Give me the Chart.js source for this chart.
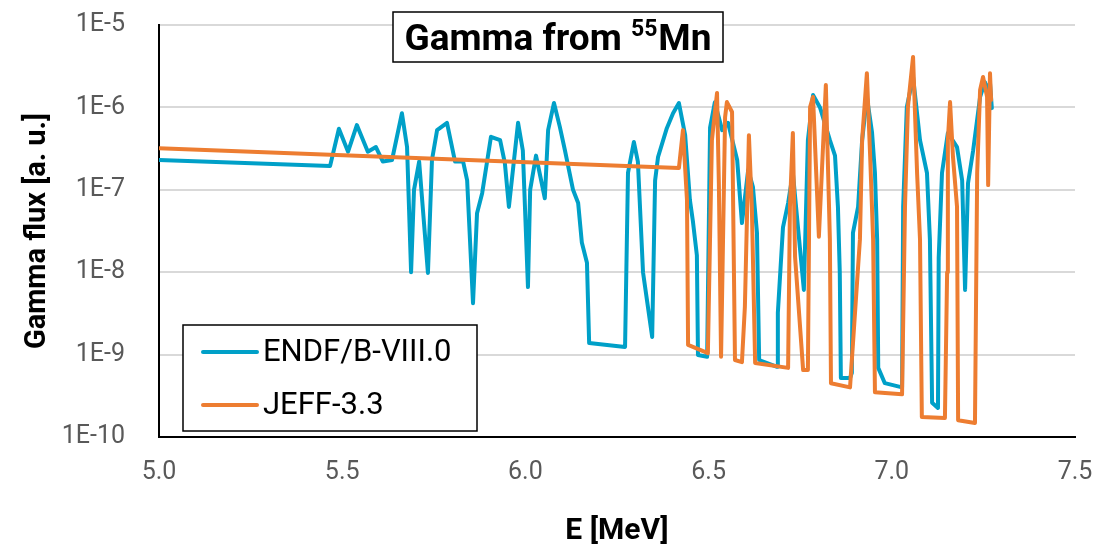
<!DOCTYPE html>
<html>
<head>
<meta charset="utf-8">
<script src="https://cdn.jsdelivr.net/npm/chart.js@4.4.1/dist/chart.umd.min.js"></script>
<style>
  html, body { margin: 0; padding: 0; background: #fff; }
</style>
</head>
<body>
<canvas id="myChart" width="1119" height="547"></canvas>
<script>
// energies in MeV, flux in arbitrary units
const endfE = [5.000, 5.467, 5.491, 5.516, 5.540, 5.570, 5.592, 5.611, 5.636, 5.663, 5.677, 5.688, 5.696, 5.710, 5.734, 5.745,
  5.759, 5.786, 5.808, 5.830, 5.841, 5.857, 5.868, 5.882, 5.906, 5.931, 5.944, 5.955, 5.980, 5.993, 6.007, 6.013,
  6.029, 6.053, 6.062, 6.078, 6.094, 6.108, 6.130, 6.144, 6.154, 6.168, 6.174, 6.272, 6.280, 6.296, 6.307, 6.321,
  6.346, 6.354, 6.362, 6.386, 6.403, 6.419, 6.436, 6.449, 6.457, 6.468, 6.471, 6.496, 6.504, 6.517, 6.537, 6.553,
  6.578, 6.591, 6.608, 6.621, 6.632, 6.638, 6.687, 6.689, 6.703, 6.717, 6.730, 6.760, 6.771, 6.785, 6.804, 6.831,
  6.845, 6.853, 6.858, 6.861, 6.886, 6.891, 6.894, 6.908, 6.919, 6.932, 6.946, 6.954, 6.960, 6.963, 6.981, 7.028,
  7.031, 7.041, 7.058, 7.077, 7.096, 7.104, 7.110, 7.126, 7.128, 7.137, 7.153, 7.178, 7.192, 7.200, 7.208, 7.222,
  7.241, 7.254, 7.263, 7.268, 7.273];
const endfFlux = [2.3e-7, 1.95e-7, 5.5e-7, 2.9e-7, 6.1e-7, 2.9e-7, 3.3e-7, 2.2e-7, 2.3e-7, 8.5e-7, 3.3e-7, 1.0e-8, 1.0e-7, 2.2e-7, 9.8e-9, 2.3e-7,
  5.3e-7, 6.5e-7, 2.2e-7, 2.2e-7, 1.3e-7, 4.2e-9, 5.2e-8, 9.1e-8, 4.4e-7, 4.0e-7, 2.1e-7, 6.2e-8, 6.5e-7, 3.0e-7, 6.6e-9, 1.0e-7,
  2.6e-7, 7.9e-8, 5.3e-7, 1.13e-6, 5.8e-7, 3.0e-7, 1.0e-7, 6.9e-8, 2.3e-8, 1.3e-8, 1.38e-9, 1.24e-9, 1.6e-7, 3.8e-7, 2.2e-7, 1.0e-8,
  1.64e-9, 1.3e-7, 2.5e-7, 5.6e-7, 8.5e-7, 1.13e-6, 4.6e-7, 7.5e-8, 4.2e-8, 1.6e-8, 9.9e-10, 9.4e-10, 5.7e-7, 1.15e-6, 5.3e-7, 6.5e-7,
  2.3e-7, 3.95e-8, 1.74e-7, 1.08e-7, 3.0e-8, 8.6e-10, 7.1e-10, 3.2e-9, 3.5e-8, 6.9e-8, 1.6e-7, 6.1e-9, 4.0e-7, 1.41e-6, 1.0e-6, 4.0e-7,
  2.6e-7, 6.2e-8, 1.0e-8, 5.2e-10, 5.2e-10, 6.0e-10, 3.0e-8, 6.2e-8, 4.0e-7, 1.34e-6, 5.0e-7, 1.6e-7, 2.5e-8, 6.9e-10, 4.5e-10, 4.0e-10,
  6.2e-8, 1.01e-6, 2.34e-6, 4.0e-7, 1.6e-7, 2.5e-8, 2.6e-10, 2.25e-10, 1.5e-8, 1.6e-7, 4.9e-7, 3.3e-7, 1.3e-7, 6.1e-9, 1.2e-7, 3.0e-7,
  1.34e-6, 2.03e-6, 1.63e-6, 1.98e-6, 9.8e-7];

const jeffE = [5.000, 6.419, 6.430, 6.441, 6.444, 6.498, 6.509, 6.523, 6.528, 6.534, 6.545, 6.550, 6.564, 6.572, 6.591,
  6.599, 6.610, 6.618, 6.627, 6.717, 6.722, 6.730, 6.736, 6.758, 6.771, 6.777, 6.785, 6.801, 6.820, 6.831,
  6.834, 6.886, 6.913, 6.919, 6.932, 6.941, 6.949, 6.954, 7.028, 7.036, 7.044, 7.058, 7.069, 7.077, 7.082,
  7.145, 7.151, 7.153, 7.159, 7.167, 7.178, 7.181, 7.227, 7.233, 7.241, 7.249, 7.260, 7.263, 7.268, 7.271];
const jeffFlux = [3.2e-7, 1.84e-7, 5.3e-7, 7.5e-8, 1.31e-9, 1.04e-9, 4.0e-7, 1.5e-6, 1.2e-7, 9.4e-10, 7.6e-7, 1.16e-6, 8.8e-7, 8.6e-10, 8.1e-10,
  3.8e-9, 4.6e-7, 6.2e-8, 7.9e-10, 6.9e-10, 6.2e-8, 4.9e-7, 1.53e-8, 6.5e-10, 6.5e-10, 1.01e-6, 1.34e-6, 2.7e-8, 1.87e-6, 2.5e-8,
  4.5e-10, 4.0e-10, 2.5e-8, 4.0e-7, 2.6e-6, 2.5e-7, 2.5e-8, 3.5e-10, 3.3e-10, 6.2e-8, 1.01e-6, 4.1e-6, 1.6e-7, 2.5e-8, 1.75e-10,
  1.7e-10, 1.0e-8, 4.0e-7, 1.16e-6, 2.5e-7, 6.2e-8, 1.6e-10, 1.48e-10, 1.6e-7, 1.63e-6, 2.34e-6, 1.34e-6, 1.14e-7, 2.6e-6, 1.23e-6];

const seriesNames = ["ENDF/B-VIII.0", "JEFF-3.3"];
const seriesColors = ["#00A0C8", "#ED7D31"];
const yTickValues = [1e-10, 1e-9, 1e-8, 1e-7, 1e-6, 1e-5];
const xTickValues = [5.0, 5.5, 6.0, 6.5, 7.0, 7.5];
const titleParts = ["Gamma from ", "55", "Mn"];
const xTitle = "E [MeV]";
const yTitle = "Gamma flux [a. u.]";

const toPoints = (xs, ys) => xs.map((x, i) => ({ x: x, y: ys[i] }));

// boxed title with the superscript mass number
const titleBox = {
  id: "titleBox",
  afterDraw(chart) {
    const ctx = chart.ctx;
    ctx.save();
    ctx.fillStyle = "#fff";
    ctx.strokeStyle = "#000";
    ctx.lineWidth = 1.5;
    ctx.fillRect(393, 12, 330, 50);
    ctx.strokeRect(393, 12, 330, 50);
    const big = "bold 37px Roboto", sup = "bold 23px Roboto";
    ctx.font = big;
    const w1 = ctx.measureText(titleParts[0]).width;
    const w3 = ctx.measureText(titleParts[2]).width;
    ctx.font = sup;
    const w2 = ctx.measureText(titleParts[1]).width;
    let x = 558 - (w1 + w2 + w3 + 1) / 2;
    ctx.fillStyle = "#000";
    ctx.textBaseline = "alphabetic";
    ctx.font = big;
    ctx.fillText(titleParts[0], x, 50);
    x += w1;
    ctx.font = sup;
    ctx.fillText(titleParts[1], x, 36);
    x += w2 + 1;
    ctx.font = big;
    ctx.fillText(titleParts[2], x, 50);
    ctx.restore();
  }
};

// boxed legend inside the plot area
const boxLegend = {
  id: "boxLegend",
  afterDraw(chart) {
    const ctx = chart.ctx;
    ctx.save();
    ctx.fillStyle = "#fff";
    ctx.strokeStyle = "#000";
    ctx.lineWidth = 1.5;
    ctx.fillRect(183, 325, 294, 106);
    ctx.strokeRect(183, 325, 294, 106);
    ctx.font = "31px Roboto";
    ctx.textBaseline = "middle";
    seriesNames.forEach((name, i) => {
      const y = 352 + i * 53;
      ctx.strokeStyle = seriesColors[i];
      ctx.lineWidth = 4;
      ctx.lineCap = "round";
      ctx.beginPath();
      ctx.moveTo(203, y);
      ctx.lineTo(257, y);
      ctx.stroke();
      ctx.fillStyle = "#000";
      ctx.fillText(name, 263, y + 1);
    });
    ctx.restore();
  }
};

new Chart(document.getElementById("myChart"), {
  type: "line",
  data: {
    datasets: [
      {
        label: seriesNames[0],
        data: toPoints(endfE, endfFlux),
        borderColor: seriesColors[0],
        borderWidth: 4,
        borderJoinStyle: "round",
        borderCapStyle: "round",
        pointRadius: 0,
        tension: 0,
        order: 1,
      },
      {
        label: seriesNames[1],
        data: toPoints(jeffE, jeffFlux),
        borderColor: seriesColors[1],
        borderWidth: 4,
        borderJoinStyle: "round",
        borderCapStyle: "round",
        pointRadius: 0,
        tension: 0,
        order: 0,
      },
    ],
  },
  options: {
    responsive: false,
    animation: false,
    layout: { padding: { left: 0, top: 25, right: 44, bottom: 0 } },
    plugins: {
      legend: { display: false },
      tooltip: { enabled: false },
    },
    scales: {
      x: {
        type: "linear",
        min: 5,
        max: 7.5,
        afterBuildTicks: (s) => { s.ticks = xTickValues.map((v) => ({ value: v })); },
        afterFit: (s) => { s.height = 110; },
        ticks: {
          color: "#595959",
          font: { family: "Roboto", size: 25 },
          padding: 21,
          callback: (v) => Number(v).toFixed(1),
        },
        grid: { display: false, drawTicks: false },
        border: { display: true, color: "#000", width: 2 },
        title: {
          display: true,
          text: xTitle,
          color: "#000",
          font: { family: "Roboto", size: 30, weight: "bold" },
          padding: { top: 0, bottom: -2 },
        },
      },
      y: {
        type: "logarithmic",
        min: 1e-10,
        max: 1e-5,
        afterBuildTicks: (s) => { s.ticks = yTickValues.map((v) => ({ value: v })); },
        afterFit: (s) => { s.width = 159; s.paddingTop = 0; s.paddingBottom = 0; },
        ticks: {
          color: "#595959",
          font: { family: "Roboto", size: 25 },
          padding: 34,
          callback: (v) => "1E" + Math.round(Math.log10(v)),
        },
        grid: { color: "#d9d9d9", lineWidth: 2, drawTicks: false },
        border: { display: true, color: "#000", width: 2 },
        title: {
          display: true,
          text: yTitle,
          color: "#000",
          font: { family: "Roboto", size: 29, weight: "bold" },
          padding: { top: 20, bottom: 0 },
        },
      },
    },
  },
  plugins: [titleBox, boxLegend],
});
</script>
</body>
</html>
